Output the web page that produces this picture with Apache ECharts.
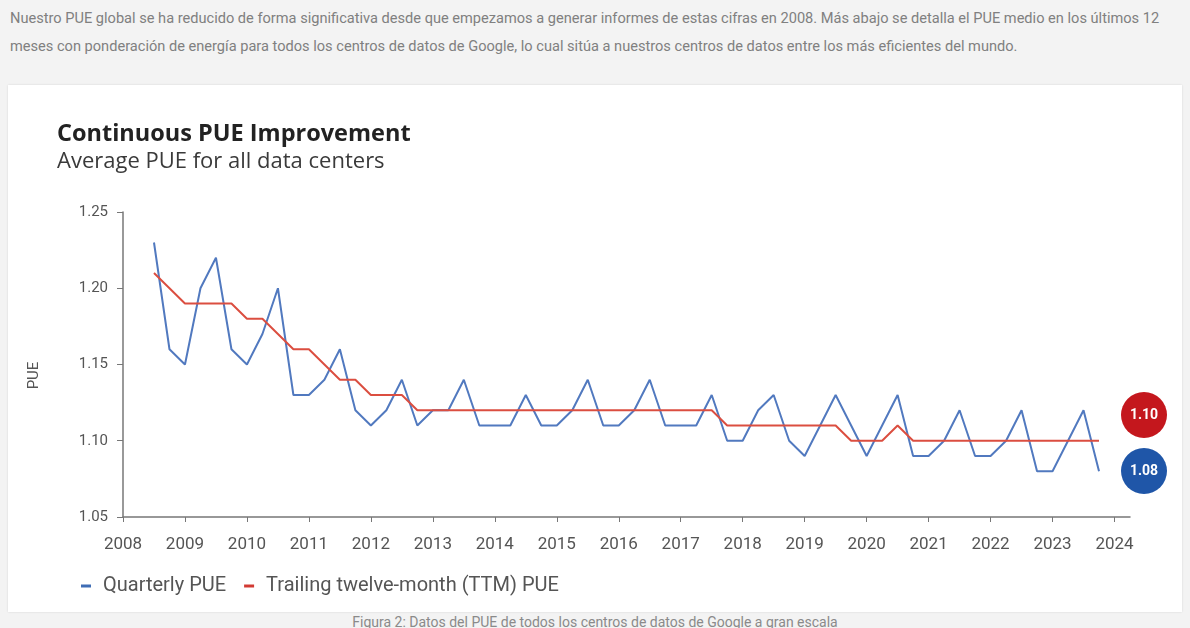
<!DOCTYPE html>
<html lang="es">
<head>
<meta charset="UTF-8">
<title>Continuous PUE Improvement</title>
<style>
    html, body { margin: 0; padding: 0; }
    body { width: 1190px; height: 628px; overflow: hidden; background: #f3f3f3; position: relative; font-family: Roboto, "Liberation Sans", sans-serif; }
    .intro { position: absolute; left: 10px; top: 4px; color: #808080; font-size: 14.6px; line-height: 28px; white-space: nowrap; }
    .card { position: absolute; left: 8px; top: 85px; width: 1174px; height: 527px; background: #fff; box-shadow: 0 0 2px rgba(0,0,0,0.12); }
    .caption { position: absolute; left: 0; width: 1190px; top: 614px; text-align: center; color: #8a8a8a; font-size: 14px; }
    #chart { position: absolute; left: 0; top: 0; width: 1190px; height: 628px; }
</style>
</head>
<body>
<div class="intro">
    Nuestro PUE global se ha reducido de forma significativa desde que empezamos a generar informes de estas cifras en 2008. Más abajo se detalla el PUE medio en los últimos 12<br>
    meses con ponderación de energía para todos los centros de datos de Google, lo cual sitúa a nuestros centros de datos entre los más eficientes del mundo.
</div>
<div class="card"></div>
<div class="caption">Figura 2: Datos del PUE de todos los centros de datos de Google a gran escala</div>
<div id="chart"></div>

<script src="https://cdn.jsdelivr.net/npm/echarts@6/dist/echarts.min.js"></script>
<script>
    // años del eje x (una marca por año)
    var years = [2008, 2009, 2010, 2011, 2012, 2013, 2014, 2015, 2016, 2017, 2018, 2019, 2020, 2021, 2022, 2023, 2024];
    var quarterNames = ['Q1', 'Q2', 'Q3', 'Q4'];
    var yTicks = [1.05, 1.10, 1.15, 1.20, 1.25];

    // PUE trimestral, desde 2008 Q3 hasta 2023 Q4
    var quarterlyPUE = [
        1.23, 1.16,
        1.15, 1.20, 1.22, 1.16,
        1.15, 1.17, 1.20, 1.13,
        1.13, 1.14, 1.16, 1.12,
        1.11, 1.12, 1.14, 1.11,
        1.12, 1.12, 1.14, 1.11,
        1.11, 1.11, 1.13, 1.11,
        1.11, 1.12, 1.14, 1.11,
        1.11, 1.12, 1.14, 1.11,
        1.11, 1.11, 1.13, 1.10,
        1.10, 1.12, 1.13, 1.10,
        1.09, 1.11, 1.13, 1.11,
        1.09, 1.11, 1.13, 1.09,
        1.09, 1.10, 1.12, 1.09,
        1.09, 1.10, 1.12, 1.08,
        1.08, 1.10, 1.12, 1.08
    ];
    // PUE de los últimos doce meses (TTM)
    var ttmPUE = [
        1.21, 1.20,
        1.19, 1.19, 1.19, 1.19,
        1.18, 1.18, 1.17, 1.16,
        1.16, 1.15, 1.14, 1.14,
        1.13, 1.13, 1.13, 1.12,
        1.12, 1.12, 1.12, 1.12,
        1.12, 1.12, 1.12, 1.12,
        1.12, 1.12, 1.12, 1.12,
        1.12, 1.12, 1.12, 1.12,
        1.12, 1.12, 1.12, 1.11,
        1.11, 1.11, 1.11, 1.11,
        1.11, 1.11, 1.11, 1.10,
        1.10, 1.10, 1.11, 1.10,
        1.10, 1.10, 1.10, 1.10,
        1.10, 1.10, 1.10, 1.10,
        1.10, 1.10, 1.10, 1.10
    ];
    var firstQuarter = 2; // 2008 Q3

    // categorías trimestrales: 2008 Q1 ... 2024 Q2 (final del eje)
    var quarters = [];
    years.forEach(function (y) {
        quarterNames.forEach(function (q) {
            if (y < 2024 || q === 'Q1' || q === 'Q2') quarters.push(y + ' ' + q);
        });
    });

    function pad(arr) {
        var out = [];
        for (var i = 0; i < firstQuarter; i++) out.push('-');
        return out.concat(arr);
    }

    var BLUE = '#5179bf';
    var RED = '#db4e40';
    var lastQ = quarterlyPUE[quarterlyPUE.length - 1].toFixed(2);
    var lastT = ttmPUE[ttmPUE.length - 1].toFixed(2);

    var chart = echarts.init(document.getElementById('chart'));
    chart.setOption({
        backgroundColor: 'transparent',
        animation: false,
        textStyle: { fontFamily: 'Roboto, sans-serif' },
        title: [
            { text: 'Continuous PUE Improvement', left: 52, top: 117,
              textStyle: { fontSize: 23.5, fontWeight: 'bold', color: '#222', fontFamily: '"Open Sans", sans-serif' } },
            { text: 'Average PUE for all data centers', left: 52, top: 146,
              textStyle: { fontSize: 22, fontWeight: 'normal', color: '#3a3a3a', fontFamily: '"Open Sans", sans-serif' } }
        ],
        legend: {
            left: 76, top: 571,
            icon: 'rect', itemWidth: 10, itemHeight: 3, itemGap: 18,
            textStyle: { fontSize: 20, color: '#555', padding: [0, 0, 0, 7] },
            data: ['Quarterly PUE', 'Trailing twelve-month (TTM) PUE']
        },
        grid: { left: 123, right: 60, top: 212, bottom: 111, containLabel: false },
        xAxis: {
            type: 'category',
            data: quarters,
            boundaryGap: false,
            axisLine: { lineStyle: { color: '#777', width: 1.5 } },
            axisTick: { length: 5, lineStyle: { color: '#777' }, interval: function (i) { return i % 4 === 0; } },
            axisLabel: {
                interval: function (i) { return i % 4 === 0; },
                formatter: function (v) { return v.slice(0, 4); },
                fontSize: 17, color: '#555', margin: 19
            },
            splitLine: { show: false }
        },
        yAxis: {
            type: 'value',
            min: yTicks[0], max: yTicks[yTicks.length - 1], interval: 0.05,
            name: 'PUE', nameLocation: 'middle', nameGap: 81, nameRotate: 90,
            nameTextStyle: { fontSize: 15, color: '#555', padding: [0, 0, 0, -22] },
            axisLine: { show: true, lineStyle: { color: '#777', width: 1.5 } },
            axisTick: { show: true, length: 6, lineStyle: { color: '#777' } },
            axisLabel: { fontSize: 15, color: '#555', margin: 15, formatter: function (v) { return v.toFixed(2); } },
            splitLine: { show: false }
        },
        series: [
            {
                name: 'Quarterly PUE', type: 'line', data: pad(quarterlyPUE),
                symbol: 'none', lineStyle: { color: BLUE, width: 2 }, itemStyle: { color: '#3f6db5' }
            },
            {
                name: 'Trailing twelve-month (TTM) PUE', type: 'line', data: pad(ttmPUE),
                symbol: 'none', lineStyle: { color: RED, width: 2 }, itemStyle: { color: '#d23a33' }
            }
        ],
        graphic: [
            { type: 'circle', shape: { cx: 1144, cy: 415, r: 23 }, style: { fill: '#c4171d' } },
            { type: 'text', x: 1144, y: 415, style: { text: lastT, fill: '#fff', font: 'bold 14px Roboto, sans-serif', align: 'center', verticalAlign: 'middle' } },
            { type: 'circle', shape: { cx: 1144, cy: 471, r: 23 }, style: { fill: '#1f56a8' } },
            { type: 'text', x: 1144, y: 471, style: { text: lastQ, fill: '#fff', font: 'bold 14px Roboto, sans-serif', align: 'center', verticalAlign: 'middle' } }
        ]
    });
</script>
</body>
</html>
